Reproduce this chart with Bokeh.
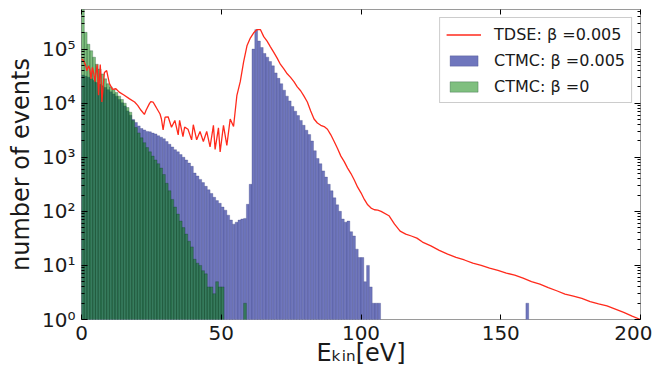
from bokeh.plotting import figure
from bokeh.models import (Range1d, FixedTicker, LogAxis, LinearAxis, Legend,
                          LegendItem, ColumnDataSource)
from bokeh.embed import file_html
from bokeh.resources import INLINE

# ---------------- data ----------------
# CTMC beta=0.005 : counts in 1 eV bins starting at E = 0 eV
ctmc_b005_counts = [
    33100, 31600, 30200, 28200, 26300, 24000, 22400, 20900, 19500, 17800,
    16200, 14800, 13500, 11700, 10200, 8900, 7200, 6000, 5000, 4400,
    3800, 3400, 3200, 3000, 2950, 2800, 2700, 2500, 2350, 2200,
    1950, 1740, 1550, 1380, 1260, 1120, 1000, 890, 780, 680,
    510, 450, 390, 340, 290, 250, 214, 182, 158, 141,
    120, 105, 85, 69, 58, 63, 69, 72, 74, 135,
    316, 100000, 229000, 141000, 107000, 83000, 71000, 59000, 49000, 36300,
    28800, 22900, 17400, 13500, 11000, 8700, 7100, 5900, 4800, 3900,
    3160, 2630, 2000, 1320, 950, 760, 560, 430, 316, 240,
    178, 132, 100, 72, 63, 66, 42, 35, 20, 14,
    14, 5, 10, 4, 2, 2, 2,
]
ctmc_b005_extra_bins = [159]
ctmc_b005_extra_counts = [2]

# CTMC beta=0 : counts in 1 eV bins starting at E = 0 eV
ctmc_b0_counts = [
    800000, 204000, 123000, 93300, 70800, 52500, 42700, 34700, 28200, 22900,
    20000, 17800, 15800, 13500, 11700, 10000, 8300, 6800, 4800, 3550,
    2820, 2290, 1860, 1510, 1260, 1050, 890, 760, 630, 480,
    330, 240, 166, 120, 89, 66, 50, 38, 28, 22,
    13, 11, 10, 8, 7, 4, 4, 3, 5, 4, 4,
]
ctmc_b0_extra_bins = [58]
ctmc_b0_extra_counts = [2]

# TDSE beta=0.005 spectrum
tdse_E = [
    0.0, 0.5, 1.0, 1.5, 1.9, 2.6, 3.0, 3.4, 3.9, 4.4, 4.8, 5.3, 5.6, 6.1, 6.7,
    7.0, 7.3, 7.8, 8.2, 9.0, 10.0, 11.1, 12.3, 13.5, 15.3, 17.2, 19.0, 20.1,
    21.3, 22.5, 23.1, 24.3, 24.8, 25.6, 26.2, 27.0, 28.1, 28.6, 29.2, 29.9,
    31.0, 32.2, 33.4, 34.6, 35.1, 36.3, 36.9, 38.1, 39.4, 40.0, 41.2, 42.4,
    43.6, 44.8, 46.0, 47.2, 47.8, 49.0, 49.6, 50.8, 52.0, 53.2, 54.4, 55.6,
    56.8, 58.0, 59.2, 60.4, 61.6, 62.8, 64.0, 65.2, 66.4, 67.6, 68.8, 70.0,
    71.2, 72.4, 73.6, 74.8, 76.0, 77.2, 78.4, 79.6, 80.8, 82.0, 83.2, 84.4,
    85.6, 86.8, 88.0, 89.2, 90.4, 91.6, 92.8, 94.0, 95.2, 96.4, 97.6, 98.8,
    100.0, 101.2, 102.4, 103.6, 104.8, 106.0, 107.2, 110, 112, 114, 116, 118,
    120, 122, 125, 128, 131, 134, 137, 140, 143, 146, 149, 152, 155, 158, 161,
    164, 167, 170, 173, 176, 179, 182, 185, 188, 191, 194, 197, 200,
]
tdse_counts = [
    6.6e4, 6.3e4, 5.8e4, 5.0e4, 4.0e4, 4.9e4, 4.2e4, 2.8e4, 4.6e4, 3.5e4,
    2.5e4, 4.0e4, 5.2e4, 1.4e4, 5.2e4, 2.8e4, 1.05e4, 2.2e4, 3.7e4, 4.0e4,
    2.3e4, 1.8e4, 1.85e4, 1.6e4, 1.4e4, 1.2e4, 1.05e4, 9.1e3, 7.4e3, 6.2e3,
    7.4e3, 9.8e3, 1.07e4, 1.05e4, 9.3e3, 7.9e3, 6.3e3, 5.1e3, 3.2e3, 5.5e3,
    5.6e3, 3.6e3, 4.8e3, 2.6e3, 4.8e3, 2.4e3, 3.6e3, 3.3e3, 2.1e3, 4.0e3,
    2.1e3, 3.0e3, 1.95e3, 3.0e3, 1.55e3, 3.9e3, 1.4e3, 3.5e3, 1.26e3, 3.9e3,
    1.66e3, 5.1e3, 3.7e3, 1.4e4, 2.5e4, 5.8e4, 1.15e5, 1.6e5, 2.0e5, 2.3e5,
    2.3e5, 1.7e5, 1.4e5, 1.1e5, 8.7e4, 6.8e4, 5.2e4, 4.3e4, 3.5e4, 3.0e4,
    2.5e4, 2.0e4, 1.7e4, 1.35e4, 1.05e4, 7.2e3, 5.1e3, 4.3e3, 3.9e3, 3.7e3,
    3.3e3, 2.6e3, 1.95e3, 1.45e3, 1.05e3, 830, 630, 500, 380, 280,
    220, 166, 132, 115, 107, 105, 100, 83, 58, 43, 38, 35,
    32, 27, 23, 19, 16.2, 14.1, 12.6, 11.0, 10.0, 8.9, 8.1, 7.2, 6.6, 5.8, 5.0,
    4.5, 3.9, 3.4, 2.95, 2.7, 2.45, 2.14, 1.95, 1.78, 1.55, 1.35, 1.15, 1.0,
]

x_ticks = [0, 50, 100, 150, 200]
y_ticks = [1, 10, 100, 1000, 10000, 100000]
y_tick_labels = ["10⁰", "10¹", "10²", "10³", "10⁴", "10⁵"]
legend_labels = ["TDSE: β =0.005", "CTMC: β =0.005", "CTMC: β =0"]
x_label = "Eₖᵢₙ[eV]"
y_label = "number of events"

BIN = 1.0
FLOOR = 0.1


def hist_source(counts, extra_bins, extra_counts):
    left, right, top = [], [], []
    bins = list(range(len(counts))) + list(extra_bins)
    vals = list(counts) + list(extra_counts)
    for b, c in zip(bins, vals):
        if c > 0:
            left.append(b * BIN)
            right.append((b + 1) * BIN)
            top.append(c)
    return ColumnDataSource(dict(left=left, right=right, top=top,
                                 bottom=[FLOOR] * len(top)))


FONT = "DejaVu Sans"
TXT = "#1a1a1a"

p = figure(width=652, height=369, y_axis_type="log",
           x_range=Range1d(0, 200), y_range=Range1d(1, 5.4e5),
           output_backend="svg", toolbar_location=None,
           min_border_left=81, min_border_right=12, min_border_top=9,
           min_border_bottom=50)
p.grid.visible = False
p.outline_line_color = "#9a9a9a"
p.outline_line_width = 1
p.background_fill_color = "white"
p.border_fill_color = "white"

blue = p.quad(left="left", right="right", top="top", bottom="bottom",
              source=hist_source(ctmc_b005_counts, ctmc_b005_extra_bins,
                                 ctmc_b005_extra_counts),
              fill_color="#6f76bd", fill_alpha=1.0,
              line_color="#38407f", line_alpha=0.6, line_width=0.5)
green = p.quad(left="left", right="right", top="top", bottom="bottom",
               source=hist_source(ctmc_b0_counts, ctmc_b0_extra_bins,
                                  ctmc_b0_extra_counts),
               fill_color="#008000", fill_alpha=0.5,
               line_color="#0a3a20", line_alpha=0.55, line_width=0.5)
red = p.line(tdse_E, tdse_counts, line_color="#ff2a1c", line_width=1.3)

# axes
xax = p.xaxis[0]
xax.ticker = FixedTicker(ticks=x_ticks)
xax.axis_line_color = None
xax.major_tick_in = 5
xax.major_tick_out = 0
xax.minor_tick_in = 0
xax.minor_tick_out = 0
xax.major_tick_line_color = "black"
xax.major_label_text_font = FONT
xax.major_label_text_font_size = "20px"
xax.major_label_text_color = TXT
xax.major_label_standoff = 6
xax.axis_label = x_label
xax.axis_label_text_font = FONT
xax.axis_label_text_font_size = "24px"
xax.axis_label_text_font_style = "normal"
xax.axis_label_text_color = TXT
xax.axis_label_standoff = -4

minor_y = [m * 10 ** d for d in range(0, 6) for m in range(2, 10)]
yax = p.yaxis[0]
yax.ticker = FixedTicker(ticks=y_ticks, minor_ticks=minor_y)
yax.major_label_overrides = {t: s for t, s in zip(y_ticks, y_tick_labels)}
yax.axis_line_color = None
yax.major_tick_in = 6
yax.major_tick_out = 0
yax.minor_tick_in = 3
yax.minor_tick_out = 0
yax.major_label_text_font = FONT
yax.major_label_text_font_size = "20px"
yax.major_label_text_color = TXT
yax.major_label_standoff = 6
yax.axis_label = y_label
yax.axis_label_text_font = FONT
yax.axis_label_text_font_size = "24px"
yax.axis_label_text_font_style = "normal"
yax.axis_label_text_color = TXT
yax.axis_label_standoff = 4

right_ax = LogAxis(ticker=FixedTicker(ticks=y_ticks, minor_ticks=minor_y),
                   major_label_overrides={t: "" for t in y_ticks},
                   axis_line_color=None, major_tick_in=6, major_tick_out=0,
                   minor_tick_in=3, minor_tick_out=0, major_label_standoff=0,
                   axis_label_standoff=0, major_label_text_font_size="1px")
p.add_layout(right_ax, "right")
top_ax = LinearAxis(ticker=FixedTicker(ticks=x_ticks),
                    major_label_overrides={t: "" for t in x_ticks},
                    axis_line_color=None, major_tick_in=5, major_tick_out=0,
                    minor_tick_in=0, minor_tick_out=0, major_label_standoff=0,
                    axis_label_standoff=0, major_label_text_font_size="1px")
p.add_layout(top_ax, "above")

legend = Legend(items=[LegendItem(label=legend_labels[0], renderers=[red]),
                       LegendItem(label=legend_labels[1], renderers=[blue]),
                       LegendItem(label=legend_labels[2], renderers=[green])],
                location="top_right", margin=8, padding=6, spacing=6,
                glyph_width=35, glyph_height=13, label_height=20,
                label_standoff=13, label_text_font=FONT,
                label_text_font_size="16px", label_text_color=TXT,
                border_line_color="#9a9a9a", border_line_width=1,
                background_fill_color="white", background_fill_alpha=1.0)
p.add_layout(legend)

open("out.html", "w").write(file_html(p, INLINE))
